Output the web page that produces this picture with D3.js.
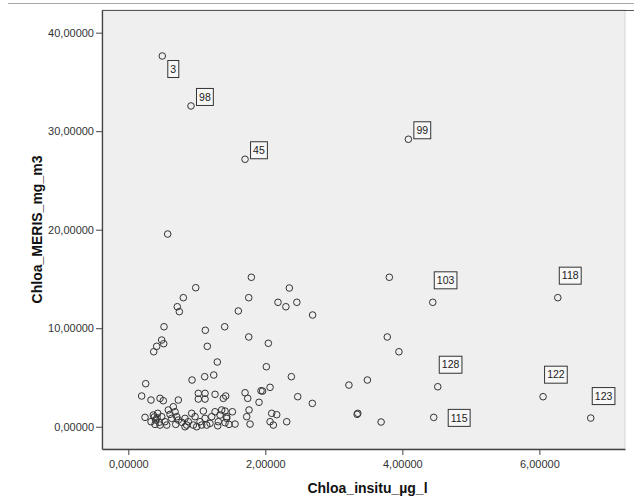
<!DOCTYPE html>
<html>
<head>
<meta charset="utf-8">
<script src="https://cdn.jsdelivr.net/npm/d3@7"></script>
<style>
  html, body { margin: 0; padding: 0; background: #ffffff; }
  svg { display: block; }
</style>
</head>
<body>
<svg id="chart" width="634" height="499"></svg>
<script>
// ---- data (labeled cases first) ----
const caseLabels = ["3", "98", "45", "99", "103", "118", "128", "122", "123", "115"];
const labelPlacement = ["dr", "ur", "ur", "ur", "up", "up", "up", "up", "up", "r"];

const insitu = [
  0.496, 0.915, 1.704, 4.088, 4.444, 6.269, 4.517, 6.054, 6.750, 4.458,
  0.575, 3.81, 3.78, 3.95, 3.22, 3.49, 3.35, 3.34, 3.69, 2.69,
  1.796, 2.35, 1.758, 2.185, 2.30, 2.46, 1.606, 1.407, 1.758, 2.044,
  0.984, 0.803, 0.715, 0.745, 0.521, 1.124, 0.487, 0.517, 0.414, 0.371,
  1.153, 1.299, 2.015, 2.380, 0.930, 1.115, 1.247, 0.254, 0.195, 0.331,
  0.463, 0.511, 0.730, 1.022, 1.120, 1.022, 1.120, 1.266, 1.387, 1.422,
  1.704, 1.743, 1.937, 1.960, 2.069, 1.908, 2.473, 2.686,
  0.244, 0.365, 0.400, 0.331, 0.390, 0.429, 0.487, 0.536, 0.463, 0.561,
  0.584, 0.609, 0.657, 0.682, 0.633, 0.707, 0.730, 0.692, 0.780, 0.828,
  0.852, 0.876, 0.925, 0.974, 0.949, 0.998, 1.047, 1.095, 1.120, 1.144,
  1.193, 1.217, 1.266, 1.314, 1.339, 1.305, 1.363, 1.412, 1.436, 1.470,
  1.519, 1.436, 1.412, 1.558, 1.762, 1.728, 1.777, 2.093, 2.166, 2.069,
  2.117, 2.312, 1.071, 0.828, 0.42, 0.45, 0.38
];
const meris = [
  37.63, 32.56, 27.15, 29.18, 12.63, 13.10, 4.06, 3.05, 0.88, 0.95,
  19.56, 15.17, 9.11, 7.61, 4.23, 4.74, 1.36, 1.26, 0.48, 11.34,
  15.17, 14.08, 13.10, 12.63, 12.18, 12.63, 11.75, 10.15, 9.11, 8.47,
  14.11, 13.10, 12.18, 11.68, 10.15, 9.79, 8.80, 8.43, 8.16, 7.61,
  8.16, 6.57, 6.09, 5.08, 4.74, 5.08, 5.25, 4.37, 3.12, 2.71,
  2.88, 2.64, 2.71, 3.39, 3.39, 2.81, 2.81, 3.29, 2.88, 3.12,
  3.45, 2.88, 3.65, 3.62, 4.00, 2.48, 3.05, 2.37,
  0.95, 1.19, 0.68, 0.51, 0.24, 1.36, 1.02, 0.51, 0.17, 0.17,
  1.70, 1.26, 2.03, 1.52, 0.85, 1.02, 0.68, 0.24, 0.45, 0.85,
  0.17, 0.51, 1.36, 1.02, 0.17, 0.00, 0.51, 1.59, 0.85, 0.17,
  0.34, 1.02, 1.52, 0.51, 1.19, 0.10, 1.70, 1.59, 0.85, 0.24,
  1.52, 1.02, 0.41, 0.27, 1.70, 1.02, 0.27, 1.36, 1.22, 0.51,
  0.17, 0.51, 0.17, 0.00, 0.90, 0.45, 1.00
];

const xTicks = [0, 2, 4, 6];
const yTicks = [0, 10, 20, 30, 40];
const xTitle = "Chloa_insitu_µg_l";
const yTitle = "Chloa_MERIS_mg_m3";

// ---- layout ----
const plot = { left: 102, right: 625, top: 10, bottom: 449 };
const svg = d3.select("#chart");
const fmt = d => d3.format(".5f")(d).replace(".", ",");

const x = d3.scaleLinear().domain([-0.384, 7.25]).range([plot.left, plot.right]);
const y = d3.scaleLinear().domain([-2.26, 42.3]).range([plot.bottom, plot.top]);

// thin page rule at the top
svg.append("line").attr("x1", 8).attr("x2", 634).attr("y1", 3.5).attr("y2", 3.5)
  .attr("stroke", "#a8a8a8").attr("stroke-width", 1);

// plot background
svg.append("rect").attr("x", plot.left).attr("y", plot.top)
  .attr("width", plot.right - plot.left).attr("height", plot.bottom - plot.top)
  .attr("fill", "#efefef").attr("stroke", "#d6d6d6");
svg.append("line").attr("x1", plot.left).attr("x2", 634).attr("y1", plot.top + 0.5).attr("y2", plot.top + 0.5)
  .attr("stroke", "#555").attr("stroke-width", 1);

// axes
const axisFont = "'Liberation Sans', Arial, sans-serif";
const gx = svg.append("g").attr("transform", `translate(0,${plot.bottom})`)
  .call(d3.axisBottom(x).tickValues(xTicks).tickFormat(fmt).tickSize(6).tickSizeOuter(0));
const gy = svg.append("g").attr("transform", `translate(${plot.left},0)`)
  .call(d3.axisLeft(y).tickValues(yTicks).tickFormat(fmt).tickSize(6).tickSizeOuter(0));
[gx, gy].forEach(g => {
  g.select(".domain").attr("stroke", "#444").attr("stroke-width", 1.3);
  g.selectAll(".tick line").attr("stroke", "#444");
  g.selectAll(".tick text").attr("fill", "#333").style("font-family", axisFont).style("font-size", "11px");
});
gx.selectAll(".tick text").attr("dy", "0.95em");
gy.selectAll(".tick text").attr("x", -8);

// points
const pts = insitu.map((v, i) => ({ x: v, y: meris[i], label: caseLabels[i] }));
svg.append("g").selectAll("circle").data(pts).join("circle")
  .attr("cx", d => x(d.x)).attr("cy", d => y(d.y)).attr("r", 3.3)
  .attr("fill", "none").attr("stroke", "#333").attr("stroke-width", 1);

// case labels
const offsets = {
  dr: { dx: 5, dy: 4, anchor: "top" },
  ur: { dx: 5, dy: -1, anchor: "bottom" },
  up: { dx: 1, dy: -14, anchor: "bottom" },
  r:  { dx: 14, dy: 0, anchor: "middle" }
};
const lg = svg.append("g");
pts.filter(d => d.label).forEach((d, i) => {
  const o = offsets[labelPlacement[i]];
  const g = lg.append("g");
  const t = g.append("text").text(d.label)
    .style("font-family", axisFont).style("font-size", "10.5px").attr("fill", "#222");
  const bb = t.node().getBBox();
  const w = bb.width + 5, h = 17;
  const left = x(d.x) + o.dx;
  let top;
  if (o.anchor === "top") top = y(d.y) + o.dy;
  else if (o.anchor === "bottom") top = y(d.y) + o.dy - h;
  else top = y(d.y) - h / 2;
  g.insert("rect", "text").attr("x", left + 0.5).attr("y", top + 0.5).attr("width", w).attr("height", h)
    .attr("fill", "#f7f7f7").attr("stroke", "#333").attr("stroke-width", 1);
  t.attr("x", left + 0.5 + w / 2).attr("y", top + 0.5 + h / 2).attr("text-anchor", "middle").attr("dy", "0.35em");
});

// axis titles
svg.append("text").attr("x", (plot.left + plot.right) / 2 + 4).attr("y", 493)
  .attr("text-anchor", "middle").style("font-family", axisFont).style("font-size", "14px")
  .style("font-weight", "bold").attr("fill", "#111").text(xTitle);
svg.append("text").attr("transform", `translate(42,${(plot.top + plot.bottom) / 2}) rotate(-90)`)
  .attr("text-anchor", "middle").style("font-family", axisFont).style("font-size", "14px")
  .style("font-weight", "bold").attr("fill", "#111").text(yTitle);
</script>
</body>
</html>
